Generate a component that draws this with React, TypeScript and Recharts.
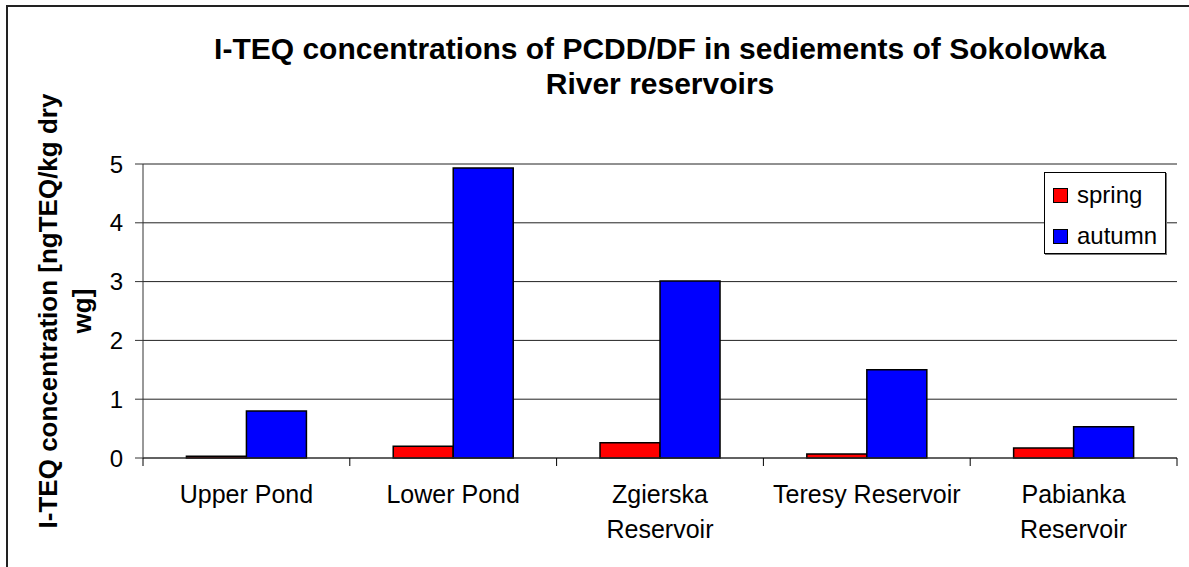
import React from 'react';
import { BarChart, Bar, XAxis, YAxis, CartesianGrid, Legend } from 'recharts';

const categories = ['Upper Pond', 'Lower Pond', 'Zgierska Reservoir', 'Teresy Reservoir', 'Pabianka Reservoir'];
const springValues = [0.03, 0.2, 0.26, 0.07, 0.17];
const autumnValues = [0.8, 4.93, 3.01, 1.5, 0.53];
const seriesNames = ['spring', 'autumn'];
const seriesColors = ['#FF0000', '#0000FF'];
const yTicks = [0, 1, 2, 3, 4, 5];
const titleLines = ['I-TEQ concentrations of PCDD/DF in sediements of Sokolowka', 'River reservoirs'];
const yLabelLines = ['I-TEQ concentration [ngTEQ/kg dry', 'wg]'];

const data = categories.map((c, i) => ({ name: c, spring: springValues[i], autumn: autumnValues[i] }));

const FONT = '"Liberation Sans", Arial, sans-serif';
const W = 1189;
const H = 567;
const PLOT_LEFT = 143;
const PLOT_RIGHT = 1177;
const PLOT_TOP = 164;
const PLOT_BOTTOM = 458;
const X_AXIS_H = 30;
const BAND = (PLOT_RIGHT - PLOT_LEFT) / categories.length;

const XTick = (props: any) => {
  const { x, y, payload, index } = props;
  const label: string = String(payload.value);
  const sp = label.lastIndexOf(' ');
  const lines = label.length > 16 && sp > 0 ? [label.slice(0, sp), label.slice(sp + 1)] : [label];
  const half = BAND / 2;
  return (
    <g>
      <line x1={x - half} x2={x - half} y1={y} y2={y + 8} stroke="#000" strokeWidth={1} />
      {index === categories.length - 1 && (
        <line x1={x + half} x2={x + half} y1={y} y2={y + 8} stroke="#000" strokeWidth={1} />
      )}
      {lines.map((l, i) => (
        <text key={i} x={x} y={y + 45 + i * 35} textAnchor="middle" fontSize={25} fill="#000" fontFamily={FONT}>
          {l}
        </text>
      ))}
    </g>
  );
};

const LegendContent = () => (
  <div
    style={{
      width: 122,
      height: 82,
      boxSizing: 'border-box',
      border: '1px solid #000',
      boxShadow: '1px 1px 0 #777',
      background: '#fff',
      fontFamily: FONT,
      fontSize: 24,
      color: '#000',
      position: 'relative',
    }}
  >
    {seriesNames.map((n, i) => (
      <div key={n} style={{ position: 'absolute', left: 8, top: 7 + i * 41, height: 30, display: 'flex', alignItems: 'center' }}>
        <span
          style={{
            display: 'inline-block',
            width: 13,
            height: 13,
            background: seriesColors[i],
            border: '1px solid #000',
            marginRight: 9,
          }}
        />
        <span style={{ lineHeight: '30px' }}>{n}</span>
      </div>
    ))}
  </div>
);

export default function App() {
  return (
    <div style={{ position: 'fixed', left: 0, top: 0, width: W, height: H, overflow: 'hidden', background: '#fff' }}>
      <div
        style={{
          position: 'absolute',
          left: 6,
          top: 5,
          width: 1300,
          height: 700,
          border: '2px solid #222',
          boxSizing: 'border-box',
        }}
      />
      <div style={{ position: 'absolute', left: 0, top: 0 }}>
        <BarChart
          width={W}
          height={H}
          data={data}
          margin={{ top: PLOT_TOP, right: W - PLOT_RIGHT, bottom: H - PLOT_BOTTOM - X_AXIS_H, left: PLOT_LEFT - 40 }}
          barCategoryGap="21%"
          barGap={0}
        >
          <CartesianGrid vertical={false} stroke="#222" strokeWidth={1} />
          <XAxis
            dataKey="name"
            interval={0}
            height={X_AXIS_H}
            tickSize={0}
            tickMargin={0}
            tickLine={false}
            axisLine={{ stroke: '#333', strokeWidth: 1 }}
            tick={<XTick />}
          />
          <YAxis
            width={40}
            domain={[0, 5]}
            ticks={yTicks}
            tickSize={8}
            tickMargin={12}
            tickLine={{ stroke: '#333' }}
            axisLine={{ stroke: '#333', strokeWidth: 1 }}
            tick={{ fontSize: 24, fill: '#000', fontFamily: FONT }}
            allowDecimals={false}
          />
          <Legend
            layout="vertical"
            align="center"
            verticalAlign="middle"
            content={<LegendContent />}
            wrapperStyle={{ position: 'absolute', left: 1044, top: 172, width: 122, height: 82, margin: 0 }}
          />
          <Bar dataKey="spring" name={seriesNames[0]} fill={seriesColors[0]} stroke="#000" strokeWidth={1.5} isAnimationActive={false} />
          <Bar dataKey="autumn" name={seriesNames[1]} fill={seriesColors[1]} stroke="#000" strokeWidth={1.5} isAnimationActive={false} />
        </BarChart>
      </div>
      <div
        style={{
          position: 'absolute',
          left: PLOT_LEFT,
          width: PLOT_RIGHT - PLOT_LEFT,
          top: 31,
          textAlign: 'center',
          fontFamily: FONT,
          fontWeight: 'bold',
          fontSize: 30,
          lineHeight: '35px',
          color: '#000',
          whiteSpace: 'nowrap',
        }}
      >
        {titleLines.map((t) => (
          <div key={t}>{t}</div>
        ))}
      </div>
      <svg style={{ position: 'absolute', left: 0, top: 0, pointerEvents: 'none' }} width={140} height={H}>
        {yLabelLines.map((t, i) => {
          const x = 57 + i * 34;
          const y = 311;
          return (
            <text
              key={t}
              x={x}
              y={y}
              transform={`rotate(-90, ${x}, ${y})`}
              textAnchor="middle"
              fontFamily={FONT}
              fontWeight="bold"
              fontSize={26}
              fill="#000"
            >
              {t}
            </text>
          );
        })}
      </svg>
    </div>
  );
}
